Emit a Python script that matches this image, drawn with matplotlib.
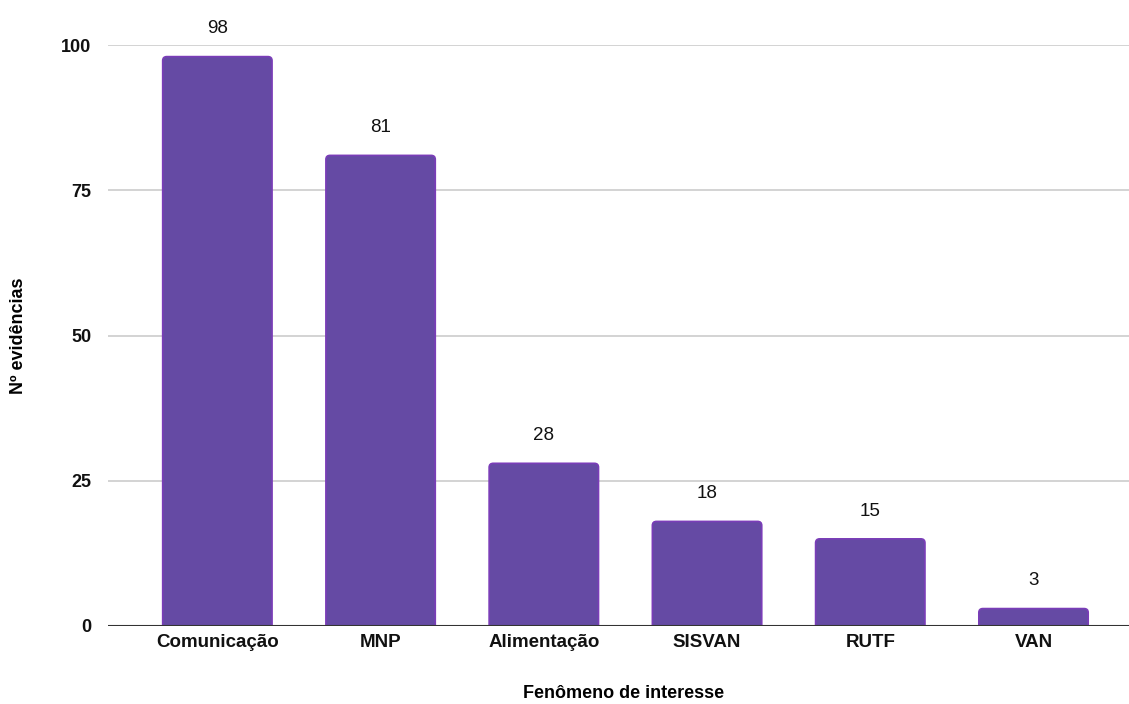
import matplotlib
matplotlib.use("Agg")
import matplotlib.pyplot as plt
from matplotlib.patches import FancyBboxPatch

categorias = ["Comunicação", "MNP", "Alimentação", "SISVAN", "RUTF", "VAN"]
evidencias = [98, 81, 28, 18, 15, 3]
yticks = [0, 25, 50, 75, 100]

plt.rcParams["font.family"] = ["Liberation Sans", "DejaVu Sans"]

fig = plt.figure(figsize=(11.29, 7.04), dpi=100)
ax = fig.add_axes([108 / 1129, 78 / 704, 1 - 108 / 1129, 581 / 704])

x = list(range(len(categorias)))
largura = 0.67
ax.set_xlim(-0.67, 5.585)
ax.set_ylim(0, 100)

# barras com cantos arredondados (a base fica abaixo do zero e é cortada)
for xi, v in zip(x, evidencias):
    p = FancyBboxPatch((xi - largura / 2, -2), largura, v + 2,
                       boxstyle="round,pad=0,rounding_size=0.025",
                       mutation_aspect=28,
                       facecolor="#654aa4", edgecolor="#7a3db8", linewidth=1.2,
                       zorder=3)
    ax.add_patch(p)
    ax.text(xi, v + 3.3, str(v), ha="center", va="bottom", fontsize=13.5,
            color="#111111", clip_on=False)

ax.set_yticks(yticks)
ax.set_yticklabels([str(t) for t in yticks], fontsize=13, fontweight="bold")
ax.set_xticks(x)
ax.set_xticklabels(categorias, fontsize=13.5, fontweight="bold")
ax.tick_params(axis="both", length=0, colors="#111111")
ax.tick_params(axis="y", pad=12)
ax.tick_params(axis="x", pad=6)

ax.grid(axis="y", color="#cccccc", linewidth=1.2, zorder=0)
ax.axhline(0, color="#333333", linewidth=1.5, zorder=4)
for s in ax.spines.values():
    s.set_visible(False)

ax.set_xlabel("Fenômeno de interesse", fontsize=13, fontweight="bold")
ax.set_ylabel("Nº evidências", fontsize=13, fontweight="bold")
ax.xaxis.set_label_coords(516 / 1021, -59 / 581)
ax.yaxis.set_label_coords(-81 / 1021, 0.5)

fig.savefig("out.png", dpi=100)
